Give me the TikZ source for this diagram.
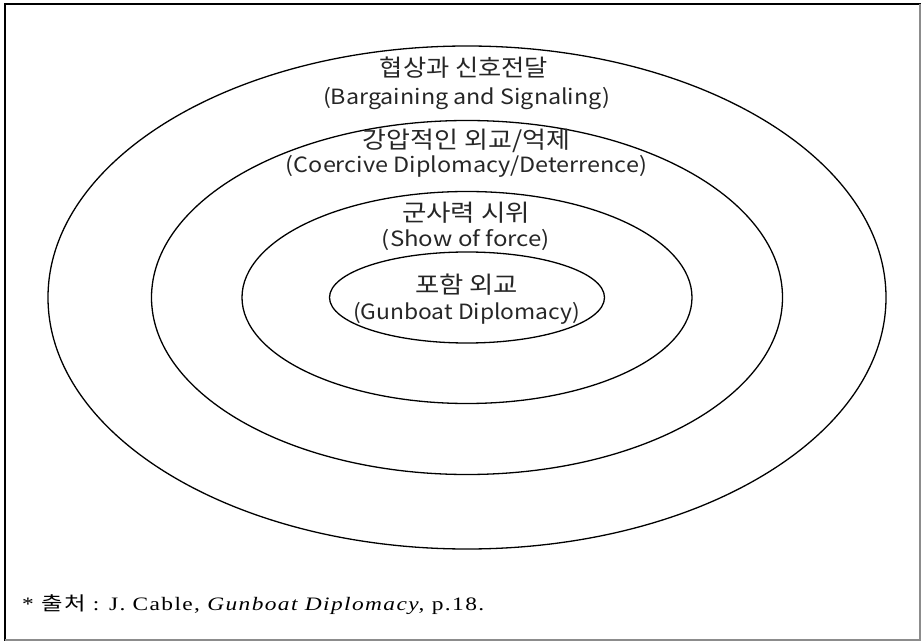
\documentclass[tikz,border=0pt]{standalone}
\usepackage{fontspec}
\usepackage{graphicx}
\setmainfont{Liberation Serif}
\newfontfamily\kr{Noto Sans CJK KR}
\newfontfamily\srcfont[LetterSpace=6]{Liberation Serif}
\newfontfamily\srckr[LetterSpace=6]{Noto Sans CJK KR}
\newcommand{\fitw}[2]{\resizebox{#1pt}{\height}{#2}}
\begin{document}
\begin{tikzpicture}[x=1pt,y=1pt,
  ring/.style={draw=black,line width=1.3pt},
  krl/.style={font=\kr\fontsize{23.5}{28}\selectfont,inner sep=0pt,text=black!85},
  enl/.style={font=\kr\fontsize{21}{25}\selectfont,inner sep=0pt,text=black!85},
  ]
\useasboundingbox (0,0) rectangle (921,641);
% frame
\draw[line width=2pt,black] (5,0.5) -- (5,637) -- (921,637);
\draw[line width=1.5pt,black!45] (5,0.8) -- (920,0.8) -- (920,637);
% ellipses
\coordinate (c) at (467,343.5);
\draw[ring] (c) ellipse [x radius=419, y radius=251.5];
\draw[ring] (c) ellipse [x radius=315.5, y radius=177];
\draw[ring] (c) ellipse [x radius=225, y radius=106];
\draw[ring] (c) ellipse [x radius=137.5, y radius=45.5];
% labels
\node[krl] (t1) at (464,573.5) {\fitw{168}{협상과 신호전달}};
\node[enl] (t2) at (466.5,542.5) {\fitw{287}{(Bargaining and Signaling)}};
\node[krl] (t3) at (466.5,500) {\fitw{207}{강압적인 외교/억제}};
\node[enl] (t4) at (466.5,475) {\fitw{361}{(Coercive Diplomacy/Deterrence)}};
\node[krl] (t5) at (466,428.5) {\fitw{128}{군사력 시위}};
\node[enl] (t6) at (466,401) {\fitw{168}{(Show of force)}};
\node[krl] (t7) at (466.5,356) {\fitw{103}{포함 외교}};
\node[enl] (t8) at (466.5,328) {\fitw{227}{(Gunboat Diplomacy)}};
% source
\node[anchor=base west,inner sep=0pt,font=\srcfont\fontsize{19}{22}\selectfont] (src) at (22,30.3)
  {\fitw{462}{* {\srckr 출처} : J. Cable, \textit{Gunboat Diplomacy}, p.18.}};
\end{tikzpicture}
\end{document}
